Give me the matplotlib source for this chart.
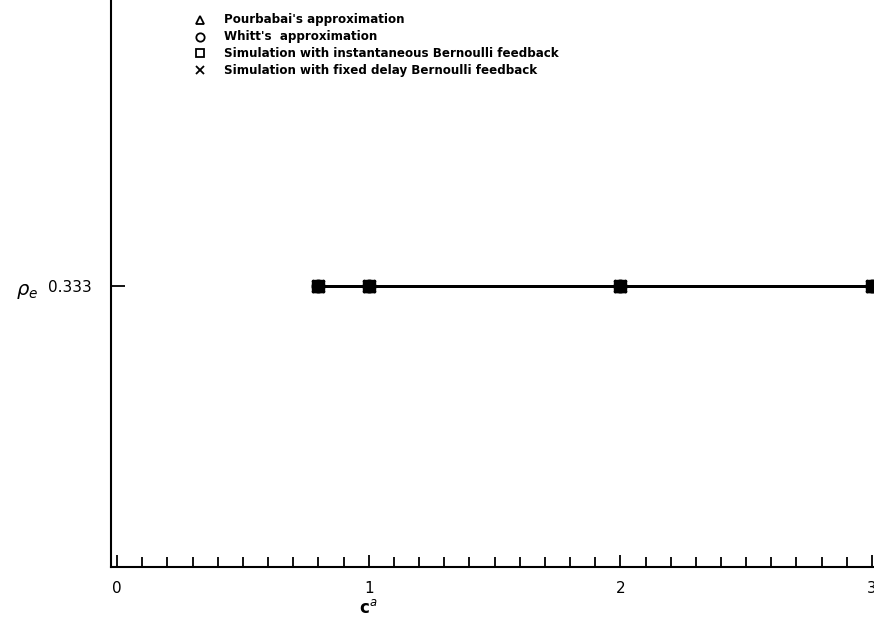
import numpy as np
import matplotlib.pyplot as plt

# data
c_a = [0.8, 1.0, 2.0, 3.0]
rho_pourbabai = [0.333, 0.333, 0.333, 0.333]
rho_whitt = [0.333, 0.333, 0.333, 0.333]
rho_sim_inst = [0.333, 0.333, 0.333, 0.333]
rho_sim_delay = [0.333, 0.333, 0.333, 0.333]

legend_labels = [
    "Pourbabai's approximation",
    "Whitt's  approximation",
    "Simulation with instantaneous Bernoulli feedback",
    "Simulation with fixed delay Bernoulli feedback",
]
legend_markers = ["^", "o", "s", "x"]

xmin, xmax = -0.024, 3.008
ymin, ymax = 0.0, 0.672

fig = plt.figure(figsize=(8.74, 6.26), dpi=100)
ax = fig.add_axes([0.127, 0.094, 0.873, 0.906])

# the curves (they all coincide)
ax.plot(c_a, rho_pourbabai, color="black", lw=1.8, marker="^", ms=8, mfc="black", mec="black")
ax.plot(c_a, rho_whitt, color="black", lw=1.8, marker="o", ms=9, mfc="black", mec="black")
ax.plot(c_a, rho_sim_inst, color="black", lw=1.8, marker="s", ms=9, mfc="black", mec="black")
ax.plot(c_a, rho_sim_delay, color="black", lw=1.8, marker="x", ms=8, mew=2)

ax.set_xlim(xmin, xmax)
ax.set_ylim(ymin, ymax)
for s in ["top", "right"]:
    ax.spines[s].set_visible(False)
for s in ["left", "bottom"]:
    ax.spines[s].set_linewidth(1.5)

ax.set_xticks([0, 1, 2, 3])
ax.set_xticklabels(["0", "1", "2", "3"])
ax.set_xticks(np.arange(0, 3.01, 0.1), minor=True)
ax.tick_params(axis="x", which="major", direction="in", length=9, width=1.3, pad=10, labelsize=11)
ax.tick_params(axis="x", which="minor", direction="in", length=7, width=1.3)
ax.set_yticks([0.333])
ax.set_yticklabels(["0.333"])
ax.tick_params(axis="y", direction="in", length=10, width=1.3, pad=14, labelsize=11)

ax.set_xlabel("c$^{a}$", fontsize=12, fontweight="bold")
ax.xaxis.set_label_coords((1 - xmin) / (xmax - xmin), -0.056)
ax.set_ylabel(r"$\rho_e$", fontsize=14, rotation=0)
ax.yaxis.set_label_coords(-0.11, 0.47)

# legend drawn as marker + text lines
for i, (m, lab) in enumerate(zip(legend_markers, legend_labels)):
    y = 0.965 - i * 0.0295
    ax.plot([0.116], [y], transform=ax.transAxes, marker=m, ms=6, mfc="white",
            mec="black", mew=1.3, color="black", clip_on=False)
    ax.text(0.148, y, lab, transform=ax.transAxes, fontsize=8.6, fontweight="bold",
            va="center", ha="left")

fig.savefig("out.png", dpi=100)
